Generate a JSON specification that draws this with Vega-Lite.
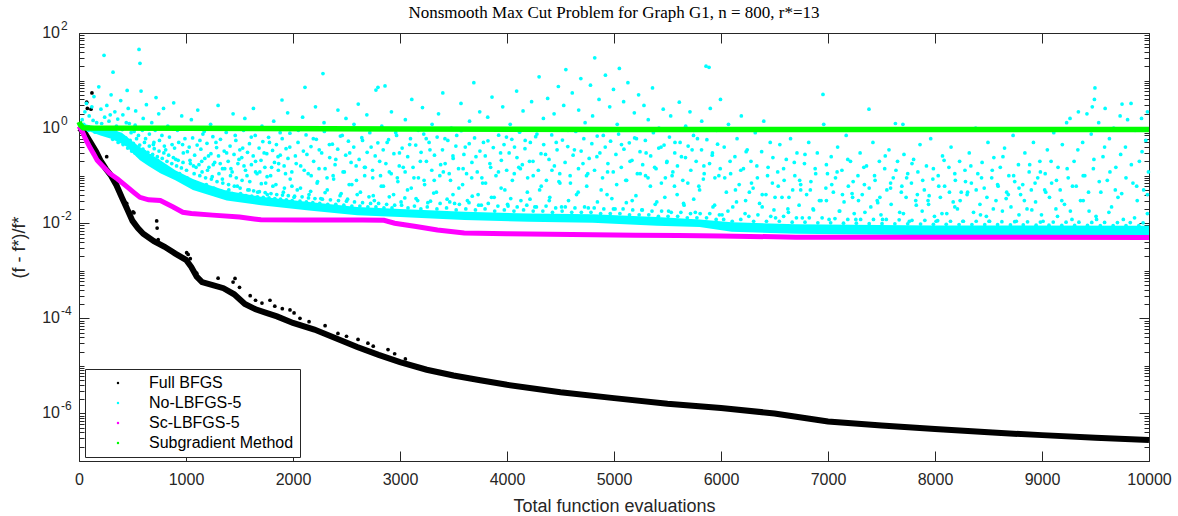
{
"$schema":"https://vega.github.io/schema/vega-lite/v6.json",
"width":1070,"height":428,
"autosize":{"type":"none"},
"padding":{"left":79,"top":33,"right":29,"bottom":55},
"background":"white",
"title":{"text":"Nonsmooth Max Cut Problem for Graph G1, n = 800, r*=13","font":"Liberation Serif","fontSize":17,"fontWeight":"normal","color":"#000000","offset":-2,"anchor":"middle"},
"config":{"view":{"stroke":null},"axis":{"grid":false,"domainColor":"#262626","tickColor":"#262626","labelColor":"#262626","titleColor":"#262626","labelFont":"Liberation Sans","titleFont":"Liberation Sans","domainWidth":1,"tickWidth":1}},
"datasets":{
"ylab":[{"v":100,"e":"2"},{"v":1,"e":"0"},{"v":0.01,"e":"-2"},{"v":0.0001,"e":"-4"},{"v":0.000001,"e":"-6"}],
"bline":[{"x":0,"y":1.0},{"x":40,"y":0.89},{"x":80,"y":0.63},{"x":120,"y":0.45},{"x":160,"y":0.32},{"x":200,"y":0.21},{"x":250,"y":0.14},{"x":300,"y":0.1},{"x":350,"y":0.063},{"x":400,"y":0.035},{"x":450,"y":0.02},{"x":500,"y":0.0112},{"x":550,"y":0.0079},{"x":600,"y":0.006},{"x":700,"y":0.0042},{"x":800,"y":0.0032},{"x":900,"y":0.0023},{"x":1000,"y":0.0017},{"x":1050,"y":0.0012},{"x":1100,"y":0.00075},{"x":1150,"y":0.00058},{"x":1250,"y":0.0005},{"x":1350,"y":0.00043},{"x":1450,"y":0.00032},{"x":1550,"y":0.0002},{"x":1650,"y":0.000155},{"x":1750,"y":0.00013},{"x":1850,"y":0.00011},{"x":2000,"y":0.00008},{"x":2200,"y":0.000058},{"x":2400,"y":0.000038},{"x":2600,"y":0.000025},{"x":2800,"y":0.000017},{"x":3000,"y":0.000012},{"x":3250,"y":0.0000083},{"x":3500,"y":0.0000063},{"x":3750,"y":0.000005},{"x":4000,"y":0.000004},{"x":4500,"y":0.0000028},{"x":5000,"y":0.0000021},{"x":5500,"y":0.0000016},{"x":6000,"y":0.0000013},{"x":6500,"y":0.000001},{"x":7000,"y":6.8e-7},{"x":7500,"y":5.6e-7},{"x":8000,"y":4.7e-7},{"x":8500,"y":4.0e-7},{"x":9000,"y":3.5e-7},{"x":9500,"y":3.1e-7},{"x":10000,"y":2.75e-7}],
"bpts":[{"x":72,"y":3.5},{"x":78,"y":2.6},{"x":112,"y":2.5},{"x":121,"y":5.5},{"x":259,"y":0.25},{"x":446,"y":0.026},{"x":452,"y":0.022},{"x":505,"y":0.0174},{"x":514,"y":0.0166},{"x":726,"y":0.0112},{"x":730,"y":0.0079},{"x":740,"y":0.0045},{"x":1006,"y":0.0024},{"x":1020,"y":0.0022},{"x":1040,"y":0.0018},{"x":1100,"y":0.00089},{"x":1300,"y":0.0007},{"x":1458,"y":0.00069},{"x":1440,"y":0.00058},{"x":1500,"y":0.00045},{"x":1600,"y":0.0003},{"x":1650,"y":0.00024},{"x":1710,"y":0.00021},{"x":1785,"y":0.00024},{"x":1830,"y":0.00018},{"x":1900,"y":0.00016},{"x":1972,"y":0.00015},{"x":2010,"y":0.00013},{"x":2065,"y":0.0001},{"x":2150,"y":0.000085},{"x":2300,"y":0.00007},{"x":2420,"y":0.000048},{"x":2500,"y":0.000042},{"x":2608,"y":0.000036},{"x":2700,"y":0.00003},{"x":2750,"y":0.000026},{"x":2888,"y":0.000022},{"x":2950,"y":0.000018},{"x":3050,"y":0.000014}],
"cband":[{"x":0,"lo":1.0,"hi":1.3},{"x":100,"lo":0.85,"hi":1.15},{"x":200,"lo":0.7,"hi":1.05},{"x":300,"lo":0.6,"hi":0.95},{"x":400,"lo":0.47,"hi":0.8},{"x":450,"lo":0.4,"hi":0.65},{"x":500,"lo":0.3,"hi":0.52},{"x":570,"lo":0.21,"hi":0.4},{"x":650,"lo":0.16,"hi":0.3},{"x":760,"lo":0.112,"hi":0.21},{"x":900,"lo":0.08,"hi":0.13},{"x":1065,"lo":0.05,"hi":0.085},{"x":1200,"lo":0.04,"hi":0.065},{"x":1380,"lo":0.03,"hi":0.048},{"x":1700,"lo":0.024,"hi":0.036},{"x":2150,"lo":0.0186,"hi":0.028},{"x":2600,"lo":0.0148,"hi":0.022},{"x":3000,"lo":0.0135,"hi":0.02},{"x":3600,"lo":0.0117,"hi":0.0175},{"x":4200,"lo":0.0107,"hi":0.016},{"x":4800,"lo":0.0102,"hi":0.0155},{"x":5400,"lo":0.0089,"hi":0.0135},{"x":5800,"lo":0.0083,"hi":0.012},{"x":6100,"lo":0.0066,"hi":0.0105},{"x":6700,"lo":0.006,"hi":0.0095},{"x":8000,"lo":0.0056,"hi":0.009},{"x":10000,"lo":0.0053,"hi":0.0088}],
"cpts":[{"x":30,"y":1.5},{"x":55,"y":2.2},{"x":70,"y":3.3},{"x":95,"y":1.8},{"x":120,"y":2.8},{"x":140,"y":4.6},{"x":165,"y":1.3},{"x":185,"y":7.4},{"x":205,"y":2.5},{"x":234,"y":34},{"x":240,"y":1.7},{"x":150,"y":0.82},{"x":220,"y":0.78},
{"x":260,"y":3.0},{"x":280,"y":1.4},{"x":300,"y":5.0},{"x":318,"y":15},{"x":335,"y":2.2},{"x":350,"y":1.1},{"x":370,"y":0.62},{"x":390,"y":3.8},{"x":410,"y":1.9},{"x":430,"y":0.55},{"x":450,"y":6.2},{"x":470,"y":1.25},{"x":485,"y":0.45},{"x":300,"y":0.72},{"x":400,"y":0.52},{"x":460,"y":2.6},
{"x":515,"y":0.85},{"x":530,"y":2.3},{"x":545,"y":0.38},{"x":561,"y":45},{"x":570,"y":23},{"x":580,"y":6.0},{"x":600,"y":1.6},{"x":615,"y":0.32},{"x":630,"y":3.1},{"x":650,"y":0.95},{"x":665,"y":0.26},{"x":680,"y":1.3},{"x":700,"y":0.5},{"x":720,"y":4.4},{"x":735,"y":0.21},{"x":745,"y":2.0},
{"x":760,"y":0.16},{"x":775,"y":0.7},{"x":790,"y":2.6},{"x":810,"y":0.35},{"x":830,"y":1.1},{"x":850,"y":0.13},{"x":870,"y":0.45},{"x":885,"y":3.4},{"x":905,"y":0.22},{"x":920,"y":0.9},{"x":940,"y":0.11},{"x":960,"y":1.8},{"x":975,"y":0.3},{"x":990,"y":0.6},
{"x":1010,"y":0.09},{"x":1030,"y":0.4},{"x":1050,"y":1.5},{"x":1070,"y":0.16},{"x":1090,"y":0.07},{"x":1110,"y":2.4},{"x":1130,"y":0.55},{"x":1150,"y":0.12},{"x":1170,"y":0.85},{"x":1190,"y":0.065},{"x":1210,"y":0.26},{"x":1230,"y":1.2},{"x":1245,"y":0.095},
{"x":1260,"y":0.055},{"x":1280,"y":0.5},{"x":1300,"y":3.0},{"x":1320,"y":0.18},{"x":1340,"y":0.085},{"x":1360,"y":1.0},{"x":1380,"y":0.3},{"x":1400,"y":0.05},{"x":1420,"y":0.14},{"x":1440,"y":2.0},{"x":1460,"y":0.7},{"x":1480,"y":0.06},{"x":1495,"y":0.22},
{"x":1510,"y":0.042},{"x":1530,"y":0.38},{"x":1550,"y":1.6},{"x":1570,"y":0.1},{"x":1590,"y":0.05},{"x":1610,"y":0.65},{"x":1630,"y":2.6},{"x":1650,"y":0.2},{"x":1670,"y":0.045},{"x":1690,"y":0.12},{"x":1710,"y":1.1},{"x":1730,"y":0.3},{"x":1745,"y":0.07},
{"x":1760,"y":0.04},{"x":1780,"y":0.5},{"x":1800,"y":0.15},{"x":1820,"y":1.4},{"x":1840,"y":0.065},{"x":1860,"y":0.25},{"x":1880,"y":0.8},{"x":1897,"y":3.9},{"x":1910,"y":0.045},{"x":1930,"y":0.11},{"x":1950,"y":2.1},{"x":1970,"y":0.4},{"x":1990,"y":0.06},
{"x":2010,"y":0.035},{"x":2030,"y":0.18},{"x":2050,"y":0.9},{"x":2070,"y":0.055},{"x":2090,"y":1.7},{"x":2112,"y":7.2},{"x":2130,"y":0.28},{"x":2150,"y":0.04},{"x":2170,"y":0.1},{"x":2190,"y":0.6},{"x":2210,"y":2.8},{"x":2230,"y":0.075},{"x":2245,"y":0.35},
{"x":2260,"y":0.033},{"x":2280,"y":14},{"x":2290,"y":1.3},{"x":2300,"y":0.14},{"x":2320,"y":0.05},{"x":2340,"y":0.45},{"x":2360,"y":1.0},{"x":2380,"y":0.085},{"x":2400,"y":0.22},{"x":2420,"y":2.4},{"x":2440,"y":0.038},{"x":2460,"y":0.7},{"x":2480,"y":0.12},{"x":2495,"y":1.6},
{"x":2510,"y":0.032},{"x":2530,"y":0.3},{"x":2550,"y":0.065},{"x":2570,"y":1.2},{"x":2590,"y":0.16},{"x":2610,"y":3.2},{"x":2630,"y":0.045},{"x":2650,"y":0.55},{"x":2670,"y":0.1},{"x":2690,"y":1.9},{"x":2710,"y":0.036},{"x":2730,"y":0.4},{"x":2745,"y":0.09},
{"x":2760,"y":0.03},{"x":2775,"y":6.3},{"x":2794,"y":7.2},{"x":2810,"y":0.2},{"x":2830,"y":1.1},{"x":2845,"y":0.06},{"x":2860,"y":7.7},{"x":2880,"y":0.5},{"x":2900,"y":0.12},{"x":2920,"y":2.2},{"x":2940,"y":0.04},{"x":2960,"y":0.8},{"x":2980,"y":0.075},{"x":2995,"y":0.3},
{"x":3010,"y":0.028},{"x":3030,"y":0.15},{"x":3050,"y":1.5},{"x":3070,"y":0.05},{"x":3090,"y":0.45},{"x":3110,"y":4.0},{"x":3130,"y":0.09},{"x":3150,"y":0.033},{"x":3170,"y":0.9},{"x":3190,"y":0.2},{"x":3210,"y":2.7},{"x":3230,"y":0.065},{"x":3245,"y":0.6},
{"x":3260,"y":0.027},{"x":3280,"y":0.35},{"x":3300,"y":1.2},{"x":3320,"y":0.08},{"x":3340,"y":0.045},{"x":3360,"y":2.0},{"x":3380,"y":0.17},{"x":3400,"y":5.5},{"x":3420,"y":0.6},{"x":3440,"y":0.032},{"x":3460,"y":0.11},{"x":3480,"y":1.0},{"x":3495,"y":0.26},
{"x":3510,"y":0.026},{"x":3530,"y":0.7},{"x":3550,"y":0.055},{"x":3570,"y":3.3},{"x":3590,"y":0.14},{"x":3610,"y":0.4},{"x":3630,"y":0.03},{"x":3650,"y":1.4},{"x":3670,"y":0.09},{"x":3690,"y":9.0},{"x":3710,"y":0.25},{"x":3730,"y":0.04},{"x":3745,"y":2.2},
{"x":3760,"y":0.024},{"x":3780,"y":0.5},{"x":3800,"y":0.07},{"x":3820,"y":1.7},{"x":3840,"y":0.18},{"x":3860,"y":4.5},{"x":3880,"y":0.035},{"x":3900,"y":0.95},{"x":3920,"y":0.12},{"x":3940,"y":0.3},{"x":3960,"y":2.8},{"x":3980,"y":0.05},{"x":3995,"y":0.65},
{"x":4010,"y":0.023},{"x":4030,"y":1.2},{"x":4050,"y":0.08},{"x":4070,"y":0.4},{"x":4090,"y":6.0},{"x":4110,"y":0.15},{"x":4130,"y":0.03},{"x":4150,"y":2.3},{"x":4170,"y":0.55},{"x":4190,"y":0.045},{"x":4210,"y":0.2},{"x":4230,"y":3.6},{"x":4245,"y":0.1},
{"x":4260,"y":0.022},{"x":4280,"y":0.75},{"x":4300,"y":12},{"x":4320,"y":0.06},{"x":4340,"y":1.6},{"x":4360,"y":0.28},{"x":4380,"y":4.2},{"x":4400,"y":0.035},{"x":4420,"y":0.13},{"x":4440,"y":2.0},{"x":4460,"y":0.5},{"x":4480,"y":7.5},{"x":4495,"y":0.07},
{"x":4510,"y":0.022},{"x":4530,"y":3.0},{"x":4550,"y":17},{"x":4570,"y":0.9},{"x":4590,"y":0.1},{"x":4610,"y":5.5},{"x":4630,"y":0.35},{"x":4650,"y":0.04},{"x":4670,"y":2.4},{"x":4690,"y":11},{"x":4710,"y":0.18},{"x":4730,"y":1.3},{"x":4745,"y":0.06},
{"x":4760,"y":0.021},{"x":4780,"y":8.0},{"x":4800,"y":1.8},{"x":4820,"y":30},{"x":4840,"y":0.25},{"x":4860,"y":4.0},{"x":4880,"y":0.05},{"x":4900,"y":0.7},{"x":4920,"y":13},{"x":4940,"y":0.12},{"x":4960,"y":2.8},{"x":4980,"y":0.033},{"x":4995,"y":6.5},
{"x":5010,"y":0.02},{"x":5030,"y":1.2},{"x":5050,"y":18},{"x":5070,"y":0.45},{"x":5090,"y":3.6},{"x":5110,"y":0.08},{"x":5130,"y":9.0},{"x":5150,"y":0.2},{"x":5170,"y":0.03},{"x":5190,"y":2.1},{"x":5210,"y":0.6},{"x":5230,"y":5.0},{"x":5245,"y":0.11},
{"x":5260,"y":0.019},{"x":5280,"y":3.0},{"x":5300,"y":0.3},{"x":5320,"y":1.5},{"x":5340,"y":0.06},{"x":5360,"y":7.0},{"x":5380,"y":0.15},{"x":5400,"y":0.028},{"x":5420,"y":1.0},{"x":5440,"y":0.4},{"x":5460,"y":2.5},{"x":5480,"y":0.09},{"x":5495,"y":0.2},
{"x":5510,"y":0.018},{"x":5530,"y":1.8},{"x":5550,"y":0.12},{"x":5570,"y":0.5},{"x":5590,"y":0.04},{"x":5610,"y":3.5},{"x":5630,"y":0.25},{"x":5650,"y":0.026},{"x":5670,"y":1.1},{"x":5690,"y":0.07},{"x":5710,"y":2.2},{"x":5730,"y":0.35},{"x":5745,"y":0.9},
{"x":5760,"y":0.017},{"x":5780,"y":0.6},{"x":5800,"y":0.05},{"x":5820,"y":1.4},{"x":5840,"y":0.16},{"x":5860,"y":20},{"x":5888,"y":19},{"x":5900,"y":2.6},{"x":5920,"y":0.3},{"x":5940,"y":0.024},{"x":5960,"y":0.9},{"x":5980,"y":0.1},{"x":5995,"y":4.0},
{"x":6010,"y":0.015},{"x":6030,"y":0.4},{"x":6050,"y":0.045},{"x":6070,"y":1.2},{"x":6090,"y":0.11},{"x":6110,"y":0.022},{"x":6130,"y":0.25},{"x":6150,"y":0.6},{"x":6170,"y":0.065},{"x":6190,"y":1.8},{"x":6210,"y":0.14},{"x":6230,"y":0.03},{"x":6245,"y":0.35},
{"x":6260,"y":0.014},{"x":6280,"y":0.2},{"x":6300,"y":0.055},{"x":6320,"y":0.8},{"x":6340,"y":0.09},{"x":6360,"y":0.026},{"x":6380,"y":0.32},{"x":6400,"y":1.4},{"x":6420,"y":0.04},{"x":6440,"y":0.15},{"x":6460,"y":0.5},{"x":6480,"y":0.07},{"x":6495,"y":0.019},
{"x":6510,"y":0.013},{"x":6530,"y":0.12},{"x":6550,"y":0.45},{"x":6570,"y":0.035},{"x":6590,"y":0.08},{"x":6610,"y":0.22},{"x":6630,"y":0.017},{"x":6650,"y":0.6},{"x":6670,"y":0.05},{"x":6690,"y":0.1},{"x":6710,"y":0.3},{"x":6730,"y":0.024},{"x":6745,"y":0.065},
{"x":6760,"y":0.013},{"x":6780,"y":0.18},{"x":6800,"y":0.04},{"x":6820,"y":0.5},{"x":6840,"y":0.075},{"x":6860,"y":0.02},{"x":6880,"y":0.14},{"x":6900,"y":0.3},{"x":6920,"y":0.03},{"x":6953,"y":5.1},{"x":6960,"y":1.2},{"x":6980,"y":0.055},{"x":6995,"y":0.11},
{"x":7010,"y":0.012},{"x":7030,"y":0.25},{"x":7050,"y":0.045},{"x":7070,"y":0.09},{"x":7090,"y":0.4},{"x":7110,"y":0.018},{"x":7130,"y":0.13},{"x":7150,"y":0.028},{"x":7170,"y":0.7},{"x":7190,"y":0.06},{"x":7210,"y":0.2},{"x":7230,"y":0.035},{"x":7245,"y":0.016},
{"x":7260,"y":0.012},{"x":7280,"y":0.1},{"x":7300,"y":0.3},{"x":7320,"y":0.04},{"x":7340,"y":0.065},{"x":7360,"y":0.16},{"x":7383,"y":2.5},{"x":7400,"y":0.022},{"x":7420,"y":0.5},{"x":7440,"y":0.08},{"x":7460,"y":0.03},{"x":7480,"y":0.2},{"x":7495,"y":0.015},
{"x":7510,"y":0.012},{"x":7530,"y":0.14},{"x":7550,"y":0.05},{"x":7570,"y":0.35},{"x":7590,"y":0.025},{"x":7610,"y":0.09},{"x":7630,"y":1.25},{"x":7650,"y":0.2},{"x":7670,"y":0.017},{"x":7690,"y":0.06},{"x":7700,"y":1.2},{"x":7710,"y":0.28},{"x":7730,"y":0.035},{"x":7745,"y":0.11},
{"x":7760,"y":0.011},{"x":7780,"y":0.07},{"x":7800,"y":0.22},{"x":7820,"y":0.03},{"x":7840,"y":0.12},{"x":7860,"y":0.45},{"x":7880,"y":0.018},{"x":7900,"y":0.05},{"x":7920,"y":0.16},{"x":7940,"y":0.025},{"x":7960,"y":0.6},{"x":7980,"y":0.085},{"x":7995,"y":0.014},
{"x":8010,"y":0.011},{"x":8030,"y":0.1},{"x":8050,"y":0.035},{"x":8070,"y":0.26},{"x":8090,"y":0.06},{"x":8110,"y":0.016},{"x":8130,"y":0.15},{"x":8150,"y":0.4},{"x":8170,"y":0.028},{"x":8190,"y":0.08},{"x":8210,"y":0.02},{"x":8230,"y":0.2},{"x":8245,"y":0.045},
{"x":8260,"y":0.011},{"x":8280,"y":0.13},{"x":8300,"y":0.04},{"x":8320,"y":0.3},{"x":8340,"y":0.07},{"x":8360,"y":0.017},{"x":8380,"y":1.0},{"x":8400,"y":0.11},{"x":8420,"y":0.025},{"x":8440,"y":0.19},{"x":8460,"y":0.055},{"x":8480,"y":0.014},{"x":8495,"y":0.5},
{"x":8510,"y":0.011},{"x":8530,"y":0.09},{"x":8550,"y":0.24},{"x":8570,"y":0.03},{"x":8590,"y":0.06},{"x":8610,"y":0.15},{"x":8630,"y":0.018},{"x":8650,"y":0.38},{"x":8670,"y":0.045},{"x":8690,"y":0.1},{"x":8710,"y":0.022},{"x":8730,"y":0.7},{"x":8745,"y":0.075},
{"x":8760,"y":0.011},{"x":8780,"y":0.17},{"x":8800,"y":0.04},{"x":8820,"y":0.065},{"x":8840,"y":0.3},{"x":8860,"y":0.02},{"x":8880,"y":0.12},{"x":8900,"y":0.05},{"x":8920,"y":0.5},{"x":8940,"y":0.028},{"x":8960,"y":0.09},{"x":8980,"y":0.2},{"x":8995,"y":0.015},
{"x":9010,"y":0.011},{"x":9030,"y":0.11},{"x":9050,"y":0.35},{"x":9070,"y":0.035},{"x":9090,"y":0.07},{"x":9110,"y":0.8},{"x":9130,"y":0.02},{"x":9150,"y":0.15},{"x":9170,"y":0.05},{"x":9190,"y":0.45},{"x":9210,"y":0.025},{"x":9230,"y":1.3},{"x":9245,"y":0.09},
{"x":9262,"y":1.6},{"x":9280,"y":0.012},{"x":9300,"y":0.2},{"x":9320,"y":0.06},{"x":9340,"y":2.2},{"x":9360,"y":0.03},{"x":9380,"y":0.5},{"x":9400,"y":0.1},{"x":9420,"y":2.0},{"x":9440,"y":0.018},{"x":9460,"y":0.75},{"x":9480,"y":0.14},{"x":9495,"y":7.0},{"x":9490,"y":4.0},{"x":9470,"y":2.8},
{"x":9510,"y":0.012},{"x":9530,"y":1.3},{"x":9550,"y":0.045},{"x":9570,"y":0.25},{"x":9590,"y":2.6},{"x":9610,"y":0.08},{"x":9630,"y":0.6},{"x":9650,"y":0.022},{"x":9670,"y":1.0},{"x":9690,"y":0.15},{"x":9710,"y":0.035},{"x":9730,"y":1.8},{"x":9748,"y":3.2},
{"x":9760,"y":0.012},{"x":9780,"y":0.4},{"x":9800,"y":1.5},{"x":9832,"y":3.3},{"x":9850,"y":0.07},{"x":9870,"y":0.9},{"x":9890,"y":0.03},{"x":9910,"y":0.2},{"x":9930,"y":1.6},{"x":9950,"y":0.05},{"x":9970,"y":0.55},{"x":9985,"y":2.2},{"x":9995,"y":0.12},
{"x":315,"y":0.58},{"x":342,"y":0.85},{"x":366,"y":0.5},{"x":388,"y":0.72},{"x":412,"y":0.45},{"x":437,"y":0.62},{"x":455,"y":0.38},{"x":478,"y":0.55},{"x":492,"y":0.33},{"x":508,"y":0.48},{"x":523,"y":0.3},{"x":538,"y":0.6},{"x":553,"y":0.27},{"x":567,"y":0.44},{"x":583,"y":0.24},{"x":598,"y":0.36},{"x":612,"y":0.5},{"x":627,"y":0.22},{"x":643,"y":0.31},{"x":657,"y":0.42},{"x":672,"y":0.19},{"x":688,"y":0.28},{"x":703,"y":0.37},{"x":717,"y":0.17},{"x":732,"y":0.25},{"x":748,"y":0.33},{"x":763,"y":0.15},{"x":778,"y":0.23},{"x":793,"y":0.3},{"x":807,"y":0.14},{"x":822,"y":0.2},{"x":838,"y":0.27},{"x":853,"y":0.12},{"x":867,"y":0.18},{"x":882,"y":0.24},{"x":897,"y":0.11},{"x":912,"y":0.16},{"x":927,"y":0.21},{"x":942,"y":0.1},{"x":957,"y":0.145},{"x":972,"y":0.19},{"x":987,"y":0.09},
{"x":1005,"y":0.13},{"x":1023,"y":0.08},{"x":1041,"y":0.18},{"x":1058,"y":0.07},{"x":1076,"y":0.11},{"x":1094,"y":0.15},{"x":1112,"y":0.065},{"x":1129,"y":0.1},{"x":1147,"y":0.2},{"x":1165,"y":0.06},{"x":1183,"y":0.09},{"x":1201,"y":0.13},{"x":1219,"y":0.055},{"x":1237,"y":0.085},{"x":1255,"y":0.17},{"x":1272,"y":0.052},{"x":1290,"y":0.075},{"x":1308,"y":0.11},{"x":1326,"y":0.048},{"x":1344,"y":0.07},{"x":1362,"y":0.14},{"x":1380,"y":0.045},{"x":1398,"y":0.065},{"x":1416,"y":0.1},{"x":1434,"y":0.042},{"x":1452,"y":0.06},{"x":1470,"y":0.09},{"x":1488,"y":0.04},{"x":1506,"y":0.055},{"x":1524,"y":0.08},{"x":1542,"y":0.16},{"x":1560,"y":0.038},{"x":1578,"y":0.05},{"x":1596,"y":0.075},{"x":1614,"y":0.037},{"x":1632,"y":0.048},{"x":1650,"y":0.12},{"x":1668,"y":0.036},{"x":1686,"y":0.046},{"x":1704,"y":0.068},{"x":1722,"y":0.035},{"x":1740,"y":0.044},{"x":1758,"y":0.095},{"x":1776,"y":0.034},{"x":1794,"y":0.042},{"x":1812,"y":0.06},{"x":1830,"y":0.033},{"x":1848,"y":0.04},{"x":1866,"y":0.18},{"x":1884,"y":0.032},{"x":1902,"y":0.039},{"x":1920,"y":0.055},{"x":1938,"y":0.031},{"x":1956,"y":0.038},{"x":1974,"y":0.085},{"x":1992,"y":0.03},{"x":2015,"y":0.037},{"x":2040,"y":0.05},{"x":2065,"y":0.029},{"x":2085,"y":0.036},{"x":2105,"y":0.13},{"x":2125,"y":0.028},{"x":2145,"y":0.034},{"x":2165,"y":0.047},{"x":2185,"y":0.027},{"x":2205,"y":0.033},{"x":2225,"y":0.07},{"x":2250,"y":0.026},{"x":2275,"y":0.032},{"x":2300,"y":0.044},{"x":2325,"y":0.025},{"x":2350,"y":0.031},{"x":2375,"y":0.1},{"x":2400,"y":0.025},{"x":2425,"y":0.03},{"x":2450,"y":0.042},{"x":2475,"y":0.024},{"x":2500,"y":0.029},{"x":2525,"y":0.065},{"x":2550,"y":0.023},{"x":2575,"y":0.028},{"x":2600,"y":0.04},{"x":2625,"y":0.023},{"x":2650,"y":0.027},{"x":2675,"y":0.15},{"x":2700,"y":0.022},{"x":2725,"y":0.026},{"x":2750,"y":0.038},{"x":2775,"y":0.022},{"x":2800,"y":0.026},{"x":2825,"y":0.06},{"x":2850,"y":0.021},{"x":2875,"y":0.025},{"x":2900,"y":0.036},{"x":2925,"y":0.021},{"x":2950,"y":0.024},{"x":2975,"y":0.09},
{"x":3015,"y":0.024},{"x":3045,"y":0.034},{"x":3075,"y":0.021},{"x":3105,"y":0.055},{"x":3135,"y":0.023},{"x":3165,"y":0.03},{"x":3195,"y":0.02},{"x":3225,"y":0.08},{"x":3255,"y":0.022},{"x":3285,"y":0.029},{"x":3315,"y":0.043},{"x":3345,"y":0.02},{"x":3375,"y":0.026},{"x":3405,"y":0.12},{"x":3435,"y":0.021},{"x":3465,"y":0.028},{"x":3495,"y":0.04},{"x":3525,"y":0.019},{"x":3555,"y":0.025},{"x":3585,"y":0.065},{"x":3615,"y":0.02},{"x":3645,"y":0.027},{"x":3675,"y":0.037},{"x":3705,"y":0.019},{"x":3735,"y":0.024},{"x":3765,"y":0.09},{"x":3795,"y":0.02},{"x":3825,"y":0.026},{"x":3855,"y":0.035},{"x":3885,"y":0.018},{"x":3915,"y":0.023},{"x":3945,"y":0.055},{"x":3975,"y":0.019},{"x":4005,"y":0.025},{"x":4035,"y":0.033},{"x":4065,"y":0.018},{"x":4095,"y":0.022},{"x":4125,"y":0.14},{"x":4155,"y":0.019},{"x":4185,"y":0.024},{"x":4215,"y":0.032},{"x":4245,"y":0.018},{"x":4275,"y":0.022},{"x":4305,"y":0.05},{"x":4335,"y":0.018},{"x":4365,"y":0.023},{"x":4395,"y":0.03},{"x":4425,"y":0.017},{"x":4455,"y":0.021},{"x":4485,"y":0.075},{"x":4515,"y":0.018},{"x":4545,"y":0.022},{"x":4575,"y":0.03},{"x":4605,"y":0.017},{"x":4635,"y":0.021},{"x":4665,"y":0.045},{"x":4695,"y":0.017},{"x":4725,"y":0.022},{"x":4755,"y":0.11},{"x":4785,"y":0.017},{"x":4815,"y":0.021},{"x":4845,"y":0.028},{"x":4875,"y":0.016},{"x":4905,"y":0.02},{"x":4935,"y":0.04},{"x":4965,"y":0.016},{"x":4995,"y":0.02},{"x":5025,"y":0.065},{"x":5055,"y":0.016},{"x":5085,"y":0.02},{"x":5115,"y":0.027},{"x":5145,"y":0.015},{"x":5175,"y":0.019},{"x":5205,"y":0.038},{"x":5235,"y":0.015},{"x":5265,"y":0.019},{"x":5295,"y":0.1},{"x":5325,"y":0.015},{"x":5355,"y":0.018},{"x":5385,"y":0.025},{"x":5415,"y":0.014},{"x":5445,"y":0.018},{"x":5475,"y":0.035},{"x":5505,"y":0.014},{"x":5535,"y":0.017},{"x":5565,"y":0.06},{"x":5595,"y":0.014},{"x":5625,"y":0.017},{"x":5655,"y":0.024},{"x":5685,"y":0.013},{"x":5715,"y":0.016},{"x":5745,"y":0.032},{"x":5775,"y":0.013},{"x":5805,"y":0.016},{"x":5835,"y":0.085},{"x":5865,"y":0.013},{"x":5895,"y":0.016},{"x":5925,"y":0.022},{"x":5955,"y":0.012},{"x":5985,"y":0.015},
{"x":6025,"y":0.012},{"x":6065,"y":0.018},{"x":6105,"y":0.011},{"x":6145,"y":0.028},{"x":6185,"y":0.012},{"x":6225,"y":0.016},{"x":6265,"y":0.045},{"x":6305,"y":0.011},{"x":6345,"y":0.015},{"x":6385,"y":0.022},{"x":6425,"y":0.011},{"x":6465,"y":0.014},{"x":6505,"y":0.035},{"x":6545,"y":0.011},{"x":6585,"y":0.014},{"x":6625,"y":0.02},{"x":6665,"y":0.0105},{"x":6705,"y":0.013},{"x":6745,"y":0.05},{"x":6785,"y":0.0105},{"x":6825,"y":0.013},{"x":6865,"y":0.019},{"x":6905,"y":0.0102},{"x":6945,"y":0.013},{"x":6985,"y":0.03},{"x":7025,"y":0.0102},{"x":7065,"y":0.0125},{"x":7105,"y":0.018},{"x":7145,"y":0.01},{"x":7185,"y":0.012},{"x":7225,"y":0.042},{"x":7265,"y":0.01},{"x":7305,"y":0.012},{"x":7345,"y":0.017},{"x":7385,"y":0.0098},{"x":7425,"y":0.012},{"x":7465,"y":0.027},{"x":7505,"y":0.0098},{"x":7545,"y":0.012},{"x":7585,"y":0.055},{"x":7625,"y":0.0097},{"x":7665,"y":0.0118},{"x":7705,"y":0.016},{"x":7745,"y":0.0097},{"x":7785,"y":0.0115},{"x":7825,"y":0.024},{"x":7865,"y":0.0096},{"x":7905,"y":0.0115},{"x":7945,"y":0.038},{"x":7985,"y":0.0095},{"x":8025,"y":0.0113},{"x":8065,"y":0.016},{"x":8105,"y":0.0095},{"x":8145,"y":0.011},{"x":8185,"y":0.022},{"x":8225,"y":0.0094},{"x":8265,"y":0.011},{"x":8305,"y":0.045},{"x":8345,"y":0.0094},{"x":8385,"y":0.011},{"x":8425,"y":0.015},{"x":8465,"y":0.0093},{"x":8505,"y":0.011},{"x":8545,"y":0.02},{"x":8585,"y":0.0093},{"x":8625,"y":0.0108},{"x":8665,"y":0.033},{"x":8705,"y":0.0092},{"x":8745,"y":0.0108},{"x":8785,"y":0.015},{"x":8825,"y":0.0092},{"x":8865,"y":0.0107},{"x":8905,"y":0.019},{"x":8945,"y":0.0091},{"x":8985,"y":0.0106},{"x":9025,"y":0.05},{"x":9065,"y":0.0091},{"x":9105,"y":0.0106},{"x":9145,"y":0.014},{"x":9185,"y":0.009},{"x":9225,"y":0.0105},{"x":9265,"y":0.018},{"x":9305,"y":0.009},{"x":9345,"y":0.0105},{"x":9385,"y":0.03},{"x":9425,"y":0.009},{"x":9465,"y":0.0104},{"x":9505,"y":0.014},{"x":9545,"y":0.0089},{"x":9585,"y":0.0104},{"x":9625,"y":0.017},{"x":9665,"y":0.0089},{"x":9705,"y":0.0103},{"x":9745,"y":0.042},{"x":9785,"y":0.0089},{"x":9825,"y":0.0103},{"x":9865,"y":0.013},{"x":9905,"y":0.0089},{"x":9945,"y":0.0102},{"x":9985,"y":0.016},
{"x":1013,"y":0.32},{"x":1037,"y":0.21},{"x":1062,"y":0.62},{"x":1081,"y":0.27},{"x":1104,"y":0.44},{"x":1121,"y":0.17},{"x":1139,"y":0.36},{"x":1158,"y":0.75},{"x":1176,"y":0.23},{"x":1196,"y":0.48},{"x":1214,"y":0.15},{"x":1233,"y":0.29},{"x":1251,"y":0.66},{"x":1268,"y":0.19},{"x":1286,"y":0.39},{"x":1304,"y":0.26},{"x":1322,"y":0.58},{"x":1341,"y":0.14},{"x":1357,"y":0.33},{"x":1376,"y":0.81},{"x":1394,"y":0.2},{"x":1412,"y":0.42},{"x":1431,"y":0.12},{"x":1449,"y":0.28},{"x":1466,"y":0.55},{"x":1485,"y":0.18},{"x":1503,"y":0.35},{"x":1521,"y":0.24},{"x":1538,"y":0.9},{"x":1556,"y":0.13},{"x":1575,"y":0.31},{"x":1593,"y":0.47},{"x":1611,"y":0.17},{"x":1628,"y":0.26},{"x":1647,"y":0.7},{"x":1664,"y":0.11},{"x":1683,"y":0.38},{"x":1701,"y":0.21},{"x":1718,"y":0.52},{"x":1737,"y":0.15},{"x":1755,"y":0.29},{"x":1772,"y":0.64},{"x":1791,"y":0.1},{"x":1809,"y":0.34},{"x":1827,"y":0.19},{"x":1845,"y":0.45},{"x":1863,"y":0.13},{"x":1881,"y":0.27},{"x":1899,"y":0.6},{"x":1917,"y":0.16},{"x":1935,"y":0.37},{"x":1953,"y":0.23},{"x":1971,"y":0.78},{"x":1989,"y":0.12},
{"x":2022,"y":0.26},{"x":2047,"y":0.5},{"x":2072,"y":0.16},{"x":2097,"y":0.33},{"x":2122,"y":0.72},{"x":2142,"y":0.11},{"x":2168,"y":0.41},{"x":2193,"y":0.2},{"x":2218,"y":0.58},{"x":2243,"y":0.14},{"x":2268,"y":0.3},{"x":2293,"y":0.85},{"x":2318,"y":0.09},{"x":2343,"y":0.24},{"x":2368,"y":0.46},{"x":2393,"y":0.17},{"x":2418,"y":0.36},{"x":2443,"y":0.68},{"x":2468,"y":0.12},{"x":2493,"y":0.27},{"x":2518,"y":0.53},{"x":2543,"y":0.19},{"x":2568,"y":0.4},{"x":2593,"y":0.08},{"x":2618,"y":0.22},{"x":2643,"y":0.63},{"x":2668,"y":0.15},{"x":2693,"y":0.31},{"x":2718,"y":0.8},{"x":2743,"y":0.13},{"x":2768,"y":0.26},{"x":2793,"y":0.49},{"x":2818,"y":0.1},{"x":2843,"y":0.35},{"x":2868,"y":0.18},{"x":2893,"y":0.57},{"x":2918,"y":0.11},{"x":2943,"y":0.29},{"x":2968,"y":0.7},{"x":2993,"y":0.16},
{"x":3020,"y":0.38},{"x":3048,"y":0.12},{"x":3072,"y":0.25},{"x":3098,"y":0.6},{"x":3122,"y":0.15},{"x":3147,"y":0.44},{"x":3172,"y":0.09},{"x":3197,"y":0.31},{"x":3222,"y":0.75},{"x":3247,"y":0.2},{"x":3272,"y":0.5},{"x":3297,"y":0.13},{"x":3322,"y":0.27},{"x":3347,"y":0.65},{"x":3372,"y":0.1},{"x":3397,"y":0.35},{"x":3422,"y":0.18},{"x":3447,"y":0.55},{"x":3472,"y":0.08},{"x":3497,"y":0.23},{"x":3522,"y":0.42},{"x":3547,"y":0.14},{"x":3572,"y":0.88},{"x":3597,"y":0.28},{"x":3622,"y":0.11},{"x":3647,"y":0.47},{"x":3672,"y":0.19},{"x":3697,"y":0.62},{"x":3722,"y":0.12},{"x":3747,"y":0.33},{"x":3772,"y":0.07},{"x":3797,"y":0.26},{"x":3822,"y":0.54},{"x":3847,"y":0.15},{"x":3872,"y":0.39},{"x":3897,"y":0.1},{"x":3922,"y":0.71},{"x":3947,"y":0.21},{"x":3972,"y":0.45},{"x":3997,"y":0.13},
{"x":4020,"y":0.3},{"x":4045,"y":0.58},{"x":4068,"y":0.11},{"x":4093,"y":0.24},{"x":4118,"y":0.82},{"x":4143,"y":0.17},{"x":4168,"y":0.37},{"x":4193,"y":0.09},{"x":4218,"y":0.5},{"x":4243,"y":0.2},{"x":4268,"y":0.66},{"x":4293,"y":0.13},{"x":4318,"y":0.29},{"x":4343,"y":0.45},{"x":4368,"y":0.08},{"x":4393,"y":0.22},{"x":4418,"y":0.72},{"x":4443,"y":0.16},{"x":4468,"y":0.35},{"x":4493,"y":0.11},{"x":4518,"y":0.56},{"x":4543,"y":0.19},{"x":4568,"y":0.41},{"x":4593,"y":0.07},{"x":4618,"y":0.27},{"x":4643,"y":0.85},{"x":4668,"y":0.14},{"x":4693,"y":0.33},{"x":4718,"y":0.6},{"x":4743,"y":0.1},{"x":4768,"y":0.23},{"x":4793,"y":0.47},{"x":4818,"y":0.13},{"x":4843,"y":0.68},{"x":4868,"y":0.3},{"x":4893,"y":0.09},{"x":4918,"y":0.4},{"x":4943,"y":0.18},{"x":4968,"y":0.53},{"x":4993,"y":0.12},
{"x":5018,"y":0.28},{"x":5043,"y":0.75},{"x":5068,"y":0.15},{"x":5093,"y":0.36},{"x":5118,"y":0.08},{"x":5143,"y":0.49},{"x":5168,"y":0.21},{"x":5193,"y":0.62},{"x":5218,"y":0.11},{"x":5243,"y":0.32},{"x":5268,"y":0.17},{"x":5293,"y":0.55},{"x":5318,"y":0.09},{"x":5343,"y":0.26},{"x":5368,"y":0.8},{"x":5393,"y":0.14},{"x":5418,"y":0.38},{"x":5443,"y":0.07},{"x":5468,"y":0.44},{"x":5493,"y":0.19},{"x":5518,"y":0.65},{"x":5543,"y":0.1},{"x":5568,"y":0.3},{"x":5593,"y":0.16},{"x":5618,"y":0.5},{"x":5643,"y":0.08},{"x":5668,"y":0.24},{"x":5693,"y":0.42},{"x":5718,"y":0.13},{"x":5743,"y":0.7},{"x":5768,"y":0.2},{"x":5793,"y":0.06},{"x":5818,"y":0.35},{"x":5843,"y":0.11},{"x":5868,"y":0.57},{"x":5893,"y":0.18},{"x":5918,"y":0.27},{"x":5943,"y":0.09},{"x":5968,"y":0.46},{"x":5993,"y":0.14},
{"x":6035,"y":0.09},{"x":6085,"y":0.2},{"x":6135,"y":0.05},{"x":6185,"y":0.13},{"x":6235,"y":0.32},{"x":6285,"y":0.07},{"x":6335,"y":0.16},{"x":6385,"y":0.04},{"x":6435,"y":0.1},{"x":6485,"y":0.24},{"x":6535,"y":0.06},{"x":6585,"y":0.14},{"x":6635,"y":0.035},{"x":6685,"y":0.19},{"x":6735,"y":0.08},{"x":6785,"y":0.28},{"x":6835,"y":0.05},{"x":6885,"y":0.11},{"x":6935,"y":0.03},{"x":6985,"y":0.17},{"x":7035,"y":0.065},{"x":7085,"y":0.12},{"x":7135,"y":0.04},{"x":7185,"y":0.22},{"x":7235,"y":0.075},{"x":7285,"y":0.03},{"x":7335,"y":0.15},{"x":7385,"y":0.055},{"x":7435,"y":0.1},{"x":7485,"y":0.035},{"x":7535,"y":0.26},{"x":7585,"y":0.07},{"x":7635,"y":0.13},{"x":7685,"y":0.045},{"x":7735,"y":0.09},{"x":7785,"y":0.18},{"x":7835,"y":0.04},{"x":7885,"y":0.08},{"x":7935,"y":0.03},{"x":7985,"y":0.14},{"x":8035,"y":0.06},{"x":8085,"y":0.21},{"x":8135,"y":0.045},{"x":8185,"y":0.11},{"x":8235,"y":0.03},{"x":8285,"y":0.075},{"x":8335,"y":0.16},{"x":8385,"y":0.05},{"x":8435,"y":0.09},{"x":8485,"y":0.035},{"x":8535,"y":0.13},{"x":8585,"y":0.065},{"x":8635,"y":0.25},{"x":8685,"y":0.04},{"x":8735,"y":0.1},{"x":8785,"y":0.055},{"x":8835,"y":0.03},{"x":8885,"y":0.17},{"x":8935,"y":0.07},{"x":8985,"y":0.12},{"x":9035,"y":0.045},{"x":9085,"y":0.2},{"x":9135,"y":0.08},{"x":9185,"y":0.03},{"x":9235,"y":0.14},{"x":9285,"y":0.06},{"x":9335,"y":0.35},{"x":9385,"y":0.1},{"x":9435,"y":0.045},{"x":9485,"y":0.22},{"x":9535,"y":0.075},{"x":9585,"y":0.4},{"x":9635,"y":0.12},{"x":9685,"y":0.05},{"x":9735,"y":0.28},{"x":9785,"y":0.09},{"x":9835,"y":0.17},{"x":9885,"y":0.06},{"x":9935,"y":0.32},{"x":9985,"y":0.04},
{"x":45,"y":1.2},{"x":88,"y":0.9},{"x":132,"y":1.45},{"x":176,"y":0.95},{"x":212,"y":1.25},{"x":255,"y":0.88},{"x":292,"y":1.9},{"x":328,"y":0.9},{"x":362,"y":1.55},{"x":405,"y":0.93},{"x":442,"y":1.3},{"x":487,"y":0.8},{"x":525,"y":1.15},{"x":556,"y":0.7},{"x":592,"y":0.9},{"x":622,"y":0.6},{"x":658,"y":0.75},{"x":695,"y":0.45},{"x":712,"y":0.9},{"x":752,"y":0.55},{"x":798,"y":0.42},{"x":845,"y":0.65},{"x":893,"y":0.38},{"x":932,"y":0.5},{"x":968,"y":0.45}],
"mline":[{"x":0,"y":1.1},{"x":30,"y":0.85},{"x":60,"y":0.6},{"x":100,"y":0.4},{"x":140,"y":0.28},{"x":170,"y":0.21},{"x":220,"y":0.16},{"x":290,"y":0.11},{"x":360,"y":0.085},{"x":450,"y":0.058},{"x":520,"y":0.043},{"x":570,"y":0.035},{"x":650,"y":0.031},{"x":760,"y":0.03},{"x":880,"y":0.022},{"x":970,"y":0.017},{"x":1050,"y":0.016},{"x":1250,"y":0.0148},{"x":1500,"y":0.0135},{"x":1700,"y":0.0118},{"x":2100,"y":0.0117},{"x":2650,"y":0.0117},{"x":2850,"y":0.0115},{"x":2950,"y":0.01},{"x":3150,"y":0.0085},{"x":3350,"y":0.0072},{"x":3600,"y":0.0062},{"x":4000,"y":0.006},{"x":5200,"y":0.0056},{"x":5600,"y":0.0055},{"x":6000,"y":0.0054},{"x":6700,"y":0.0051},{"x":8000,"y":0.0051},{"x":10000,"y":0.005}],
"gline":[{"x":0,"y":1.35},{"x":15,"y":1.15},{"x":40,"y":1.02},{"x":100,"y":1.0},{"x":1000,"y":0.99},{"x":3000,"y":0.96},{"x":5000,"y":0.94},{"x":7000,"y":0.935},{"x":10000,"y":0.93}]
},
"layer":[
{"data":{"name":"bline"},"mark":{"type":"line","color":"#000000","strokeWidth":6},
 "encoding":{
  "x":{"field":"x","type":"quantitative","scale":{"domain":[0,10000],"nice":false,"zero":false},"axis":{"orient":"top","labels":false,"values":[0,1000,2000,3000,4000,5000,6000,7000,8000,9000,10000],"tickSize":-10,"title":null}},
  "y":{"field":"y","type":"quantitative","scale":{"type":"log","domain":[1e-7,100],"nice":false},"axis":{"orient":"right","labels":false,"values":[1e-6,0.0001,0.01,1,100],"tickSize":-10,"title":null}}}},
{"data":{"name":"bpts"},"mark":{"type":"circle","size":14,"opacity":1},
 "encoding":{
  "x":{"field":"x","type":"quantitative","axis":null},
  "y":{"field":"y","type":"quantitative","scale":{"type":"log"},"axis":{"orient":"right","labels":false,"domain":false,"tickSize":-5,"title":null,"values":[1e-7,2e-7,3e-7,4e-7,5e-7,6e-7,7e-7,8e-7,9e-7,2e-6,3e-6,4e-6,5e-6,6e-6,7e-6,8e-6,9e-6,1e-5,2e-5,3e-5,4e-5,5e-5,6e-5,7e-5,8e-5,9e-5,2e-4,3e-4,4e-4,5e-4,6e-4,7e-4,8e-4,9e-4,1e-3,2e-3,3e-3,4e-3,5e-3,6e-3,7e-3,8e-3,9e-3,0.02,0.03,0.04,0.05,0.06,0.07,0.08,0.09,0.1,0.2,0.3,0.4,0.5,0.6,0.7,0.8,0.9,2,3,4,5,6,7,8,9,10,20,30,40,50,60,70,80,90]}},
  "color":{"datum":"Full BFGS","type":"nominal","scale":{"domain":["Full BFGS","No-LBFGS-5","Sc-LBFGS-5","Subgradient Method"],"range":["#000000","#00FFFF","#FF00FF","#00FF00"]},
   "legend":{"orient":"none","legendX":6,"legendY":336,"title":null,"padding":6,"strokeColor":"#262626","fillColor":"#ffffff","symbolSize":6,"symbolType":"circle","symbolOffset":19,"labelOffset":23,"labelFontSize":16,"labelFont":"Liberation Sans","labelColor":"#000000","rowPadding":4}}}},
{"data":{"name":"cband"},"mark":{"type":"area","color":"#00FFFF","opacity":1},
 "encoding":{
  "x":{"field":"x","type":"quantitative","axis":{"orient":"bottom","values":[0,1000,2000,3000,4000,5000,6000,7000,8000,9000,10000],"format":"d","labelFlush":false,"labelOverlap":false,"tickSize":-10,"labelPadding":20,"labelFontSize":16,"title":"Total function evaluations","titleFontSize":18,"titleFontWeight":"normal","titlePadding":10}},
  "y":{"field":"lo","type":"quantitative","scale":{"type":"log"},"axis":{"orient":"left","values":[1e-6,0.0001,0.01,1,100],"labels":false,"tickSize":-10,"title":"(f - f*)/f*","titleFontSize":18,"titleFontWeight":"normal","titlePadding":50}},
  "y2":{"field":"hi"}}},
{"data":{"name":"cpts"},"mark":{"type":"circle","size":14,"opacity":1},
 "encoding":{
  "x":{"field":"x","type":"quantitative","axis":null},
  "y":{"field":"y","type":"quantitative","scale":{"type":"log"},"axis":{"orient":"left","labels":false,"domain":false,"tickSize":-5,"title":null,"values":[1e-7,2e-7,3e-7,4e-7,5e-7,6e-7,7e-7,8e-7,9e-7,2e-6,3e-6,4e-6,5e-6,6e-6,7e-6,8e-6,9e-6,1e-5,2e-5,3e-5,4e-5,5e-5,6e-5,7e-5,8e-5,9e-5,2e-4,3e-4,4e-4,5e-4,6e-4,7e-4,8e-4,9e-4,1e-3,2e-3,3e-3,4e-3,5e-3,6e-3,7e-3,8e-3,9e-3,0.02,0.03,0.04,0.05,0.06,0.07,0.08,0.09,0.1,0.2,0.3,0.4,0.5,0.6,0.7,0.8,0.9,2,3,4,5,6,7,8,9,10,20,30,40,50,60,70,80,90]}},
  "color":{"datum":"No-LBFGS-5","type":"nominal"}}},
{"data":{"name":"mline"},"mark":{"type":"line","color":"#FF00FF","strokeWidth":5},
 "encoding":{"x":{"field":"x","type":"quantitative","axis":null},"y":{"field":"y","type":"quantitative","scale":{"type":"log"},"axis":null}}},
{"data":{"name":"gline"},"mark":{"type":"line","color":"#00FF00","strokeWidth":5.5},
 "encoding":{"x":{"field":"x","type":"quantitative","axis":null},"y":{"field":"y","type":"quantitative","scale":{"type":"log"},"axis":null}}},
{"data":{"name":"ylab"},"mark":{"type":"text","text":"10","align":"right","baseline":"middle","dx":-19,"fontSize":16,"font":"Liberation Sans","color":"#262626"},
 "encoding":{"x":{"datum":0,"type":"quantitative","axis":null},"y":{"field":"v","type":"quantitative","scale":{"type":"log"},"axis":null}}},
{"data":{"name":"ylab"},"mark":{"type":"text","align":"left","baseline":"middle","dx":-18,"dy":-7,"fontSize":12,"font":"Liberation Sans","color":"#262626"},
 "encoding":{"x":{"datum":0,"type":"quantitative","axis":null},"y":{"field":"v","type":"quantitative","scale":{"type":"log"},"axis":null},"text":{"field":"e"}}}
],
"resolve":{"axis":{"x":"independent","y":"independent"}}
}
